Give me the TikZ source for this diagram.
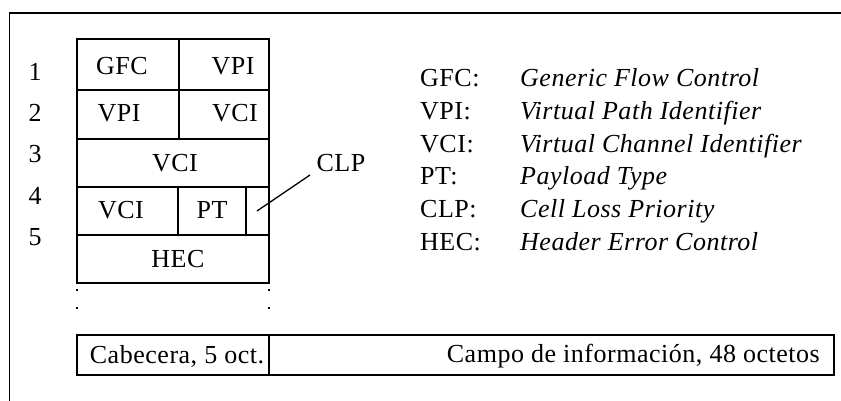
\documentclass[tikz,border=0pt]{standalone}
\usepackage{fontspec}
\setmainfont{Liberation Serif}
\begin{document}
\begin{tikzpicture}[x=1pt,y=-1pt,
  frame/.style={line width=1.6pt},
  grid/.style={line width=1.5pt},
  txt/.style={inner sep=0pt,font=\fontsize{26}{30}\selectfont\addfontfeature{LetterSpace=2}},
  lab/.style={txt,anchor=base west},
  desc/.style={txt,anchor=base west,font=\fontsize{26}{30}\selectfont\itshape\addfontfeature{LetterSpace=2}},
  dot/.style={line width=1.2pt}]
\useasboundingbox (0,0) rectangle (841,401);
% outer frame
\draw[frame] (9.5,401) -- (9.5,13) -- (841,13);
% header table
\draw[grid] (77,39) rectangle (269,283);
\draw[grid] (77,90) -- (269,90);
\draw[grid] (77,139) -- (269,139);
\draw[grid] (77,187) -- (269,187);
\draw[grid] (77,235) -- (269,235);
\draw[grid] (179,39) -- (179,139);
\draw[grid] (178,187) -- (178,235);
\draw[grid] (246,187) -- (246,235);
% cell texts
\node[txt] (gfc1) at (122,66) {GFC};
\node[txt] (vpi1) at (233,66) {VPI};
\node[txt] (vpi2) at (119,113) {VPI};
\node[txt] (vci2) at (235,113) {VCI};
\node[txt] (vci3) at (175,163) {VCI};
\node[txt] (vci4) at (121,210) {VCI};
\node[txt] (pt4) at (212,210) {PT};
\node[txt] (hec5) at (178,259) {HEC};
% row numbers
\node[txt] (n1) at (35,72) {1};
\node[txt] (n2) at (35,113) {2};
\node[txt] (n3) at (35,154) {3};
\node[txt] (n4) at (35,196) {4};
\node[txt] (n5) at (35,237) {5};
% CLP pointer
\node[txt] (clp) at (341,163) {CLP};
\coordinate (clpin) at (257,211);
\coordinate (clpout) at (310,175);
\draw[line width=1.3pt] (clpin) -- (clpout);
% dots
\foreach \xx in {77,269} \foreach \yy in {290,308} \draw[dot] (\xx,\yy-1.2) -- (\xx,\yy+1.2);
% bottom bar
\draw[grid] (77,335) rectangle (834,375);
\draw[grid] (269,335) -- (269,375);
\node[txt] (cab) at (177,356) {Cabecera, 5 oct.};
\node[txt,anchor=east] (campo) at (820,356) {Campo de información, 48 octetos};
% legend
\foreach \i/\a/\b in {0/GFC:/Generic Flow Control,1/VPI:/Virtual Path Identifier,2/VCI:/Virtual Channel Identifier,3/PT:/Payload Type,4/CLP:/Cell Loss Priority,5/HEC:/Header Error Control}{
  \node[lab] (l\i) at (420,86.6+32.8*\i) {\a};
  \node[desc] (d\i) at (520,86.6+32.8*\i) {\b};
}
\end{tikzpicture}
\end{document}
